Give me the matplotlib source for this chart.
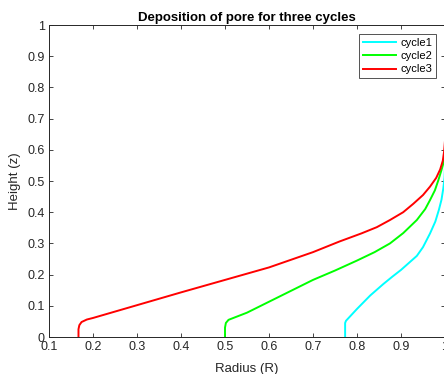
import matplotlib
matplotlib.use("Agg")
import matplotlib.pyplot as plt

# ------------------------------------------------------------------
# Data (radius R, height z)
# ------------------------------------------------------------------
cycle1_r = [0.773, 0.773, 0.775, 0.80, 0.83, 0.86, 0.88, 0.90, 0.92, 0.936,
            0.950, 0.966, 0.978, 0.986, 0.992, 0.996, 0.999, 1.0]
cycle1_z = [0.0, 0.045, 0.052, 0.090, 0.133, 0.170, 0.193, 0.215, 0.240, 0.260,
            0.288, 0.332, 0.370, 0.407, 0.440, 0.475, 0.510, 0.550]

cycle2_r = [0.500, 0.500, 0.502, 0.508, 0.55, 0.60, 0.65, 0.70, 0.75, 0.80,
            0.84, 0.875, 0.905, 0.936, 0.955, 0.966, 0.977, 0.985, 0.992,
            0.997, 1.0]
cycle2_z = [0.0, 0.030, 0.045, 0.055, 0.078, 0.113, 0.148, 0.183, 0.213, 0.245,
            0.272, 0.300, 0.333, 0.375, 0.410, 0.439, 0.470, 0.503, 0.535,
            0.560, 0.585]

cycle3_r = [0.167, 0.167, 0.169, 0.174, 0.186, 0.20, 0.30, 0.40, 0.50, 0.60,
            0.70, 0.76, 0.81, 0.845, 0.875, 0.905, 0.928, 0.950, 0.966, 0.980,
            0.989, 0.995, 0.998, 1.0]
cycle3_z = [0.0, 0.025, 0.038, 0.048, 0.056, 0.061, 0.102, 0.143, 0.183, 0.223,
            0.272, 0.306, 0.332, 0.352, 0.375, 0.400, 0.427, 0.455, 0.482, 0.510,
            0.537, 0.565, 0.595, 0.630]

labels = ["cycle1", "cycle2", "cycle3"]
colors = ["#00ffff", "#00ff00", "#ff0000"]

x_ticks = [0.1, 0.2, 0.3, 0.4, 0.5, 0.6, 0.7, 0.8, 0.9, 1.0]
x_tick_labels = ["0.1", "0.2", "0.3", "0.4", "0.5", "0.6", "0.7", "0.8", "0.9", "1"]
y_ticks = [0, 0.1, 0.2, 0.3, 0.4, 0.5, 0.6, 0.7, 0.8, 0.9, 1.0]
y_tick_labels = ["0", "0.1", "0.2", "0.3", "0.4", "0.5", "0.6", "0.7", "0.8", "0.9", "1"]

plt.rcParams["font.family"] = ["Liberation Sans", "DejaVu Sans"]

fig = plt.figure(figsize=(4.44, 3.74), dpi=100)
ax = fig.add_axes([49 / 444, 37 / 374, 396 / 444, 312 / 374])

series = [(cycle1_r, cycle1_z), (cycle2_r, cycle2_z), (cycle3_r, cycle3_z)]
for (r, z), lab, col in zip(series, labels, colors):
    ax.plot(r, z, color=col, lw=1.4, label=lab, solid_joinstyle="round")

ax.set_xlim(0.1, 1.0)
ax.set_ylim(0, 1)
ax.set_xticks(x_ticks)
ax.set_xticklabels(x_tick_labels)
ax.set_yticks(y_ticks)
ax.set_yticklabels(y_tick_labels)

ax.tick_params(direction="in", length=3, width=0.6, labelsize=9,
               colors="#262626", top=True, right=True, pad=3)
for s in ax.spines.values():
    s.set_linewidth(0.7)
    s.set_color("#262626")

ax.set_xlabel("Radius (R)", fontsize=9.5, color="#262626", labelpad=7)
ax.set_ylabel("Height (z)", fontsize=9.5, color="#262626", labelpad=5)
ax.set_title("Deposition of pore for three cycles", fontsize=9.5,
             fontweight="bold", pad=3)

leg = ax.legend(loc="upper right", fontsize=8, frameon=True, fancybox=False,
                edgecolor="#262626", handlelength=3.0, handletextpad=0.35,
                borderpad=0.35, labelspacing=0.3, borderaxespad=0.8)
leg.get_frame().set_linewidth(0.7)

fig.savefig("out.png", dpi=100)
